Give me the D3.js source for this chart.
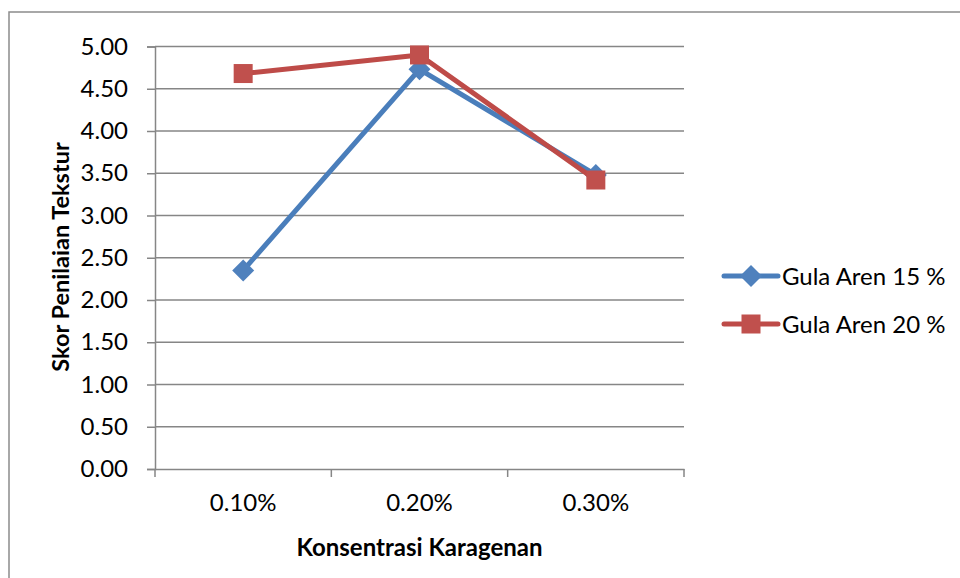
<!DOCTYPE html>
<html><head><meta charset="utf-8">
<script src="https://cdn.jsdelivr.net/npm/d3@7"></script>
<style>body{margin:0;background:#fff}svg{display:block}</style>
</head><body>
<svg id="c" width="960" height="578"></svg>
<script>
const categories = ["0.10%", "0.20%", "0.30%"];
const seriesNames = ["Gula Aren 15 %", "Gula Aren 20 %"];
const gula15 = [2.35, 4.73, 3.48];
const gula20 = [4.68, 4.90, 3.42];
const yTicks = [0, 0.5, 1, 1.5, 2, 2.5, 3, 3.5, 4, 4.5, 5];

const svg = d3.select("#c");
const font = "Lato, 'Open Sans', sans-serif";
const m = {l:155, r:684, t:46.5, b:469};

svg.append("rect").attr("x",9).attr("y",12).attr("width",1000).attr("height",600)
  .attr("fill","#fff").attr("stroke","#8c8c8c").attr("stroke-width",1.5);

const x = d3.scaleBand().domain(categories).range([m.l, m.r]);
const y = d3.scaleLinear().domain([0,5]).range([m.b, m.t]);

svg.append("g").selectAll("line").data(yTicks.slice(1)).join("line")
  .attr("x1", m.l).attr("x2", m.r).attr("y1", d=>y(d)).attr("y2", d=>y(d))
  .attr("stroke","#868686").attr("stroke-width",1.5);

const ya = svg.append("g").attr("transform",`translate(${m.l},0)`)
  .call(d3.axisLeft(y).tickValues(yTicks).tickFormat(d3.format(".2f")).tickSize(8).tickPadding(19));
ya.select(".domain").attr("stroke","#868686").attr("stroke-width",1.5);
ya.selectAll(".tick line").attr("stroke","#868686").attr("stroke-width",1.5);
ya.selectAll("text").attr("font-family",font).attr("font-size",24).attr("fill","#000");

const xa = svg.append("g").attr("transform",`translate(0,${m.b})`)
  .call(d3.axisBottom(x).tickSize(0).tickPadding(25));
xa.select(".domain").attr("stroke","#868686").attr("stroke-width",1.5);
xa.selectAll("text").attr("font-family",font).attr("font-size",24).attr("fill","#000");
const bounds = [m.l, ...categories.map(c=>x(c)+x.bandwidth())];
svg.append("g").selectAll("line").data(bounds).join("line")
  .attr("x1",d=>d).attr("x2",d=>d).attr("y1",m.b).attr("y2",m.b+8)
  .attr("stroke","#868686").attr("stroke-width",1.5);

svg.append("text").attr("x", (m.l+m.r)/2).attr("y", 556).attr("text-anchor","middle")
  .attr("font-family",font).attr("font-weight","bold").attr("font-size",24).text("Konsentrasi Karagenan");
svg.append("text").attr("transform","translate(69,257) rotate(-90)").attr("text-anchor","middle")
  .attr("font-family",font).attr("font-weight","bold").attr("font-size",23.5).text("Skor Penilaian Tekstur");

const cx = c => x(c) + x.bandwidth()/2;
const line = d3.line().x((d,i)=>cx(categories[i])).y(d=>y(d));
const series = [
  {name: seriesNames[0], values: gula15, stroke:"#4A7EBB", fill:"#4F81BD", marker:"diamond"},
  {name: seriesNames[1], values: gula20, stroke:"#BE4B48", fill:"#C0504D", marker:"square"}
];
function drawMarker(g, type, px, py, fill){
  if(type==="diamond"){
    g.append("path").attr("d", `M${px},${py-11}L${px+11},${py}L${px},${py+11}L${px-11},${py}Z`).attr("fill",fill);
  } else {
    g.append("rect").attr("x",px-9.5).attr("y",py-9.5).attr("width",19).attr("height",19).attr("fill",fill);
  }
}
series.forEach(s=>{
  const g = svg.append("g");
  g.append("path").attr("d", line(s.values)).attr("fill","none").attr("stroke",s.stroke)
    .attr("stroke-width",5).attr("stroke-linejoin","round");
  s.values.forEach((v,i)=>drawMarker(g, s.marker, cx(categories[i]), y(v), s.fill));
});

series.forEach((s,i)=>{
  const ly = 276 + i*48;
  const g = svg.append("g");
  g.append("line").attr("x1",724).attr("x2",778).attr("y1",ly).attr("y2",ly)
    .attr("stroke",s.stroke).attr("stroke-width",5).attr("stroke-linecap","round");
  drawMarker(g, s.marker, 751, ly, s.fill);
  g.append("text").attr("x",782).attr("y",ly+9).attr("font-family",font).attr("font-size",24).text(s.name);
});
</script>
</body></html>
